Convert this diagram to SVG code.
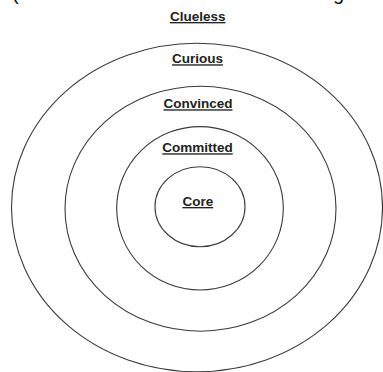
<svg xmlns="http://www.w3.org/2000/svg" width="383" height="372" viewBox="0 0 383 372">
<style>
.ring{fill:none;stroke:#3a3a3a;stroke-width:1.1}
.lbl{font-family:"Liberation Sans",Arial,sans-serif;font-weight:bold;font-size:13.5px;fill:#222;text-anchor:middle;text-decoration:underline}
.frag{font-family:"Liberation Sans",Arial,sans-serif;font-size:20px;fill:#111}
</style>
<rect width="383" height="372" fill="#fff"/>
<text class="frag" x="12" y="0">(</text>
<text class="frag" x="333" y="0">g</text>
<g id="clueless"><text class="lbl" x="197.7" y="21">Clueless</text></g>
<g id="curious"><ellipse class="ring" cx="197" cy="207.5" rx="185.5" ry="164.3"/><text class="lbl" x="197.5" y="63.3">Curious</text></g>
<g id="convinced"><ellipse class="ring" cx="200.5" cy="208.7" rx="135.5" ry="122.5"/><text class="lbl" x="198" y="108.3">Convinced</text></g>
<g id="committed"><ellipse class="ring" cx="200" cy="208.3" rx="83.3" ry="81.7"/><text class="lbl" x="197.5" y="152.3">Committed</text></g>
<g id="core"><ellipse class="ring" cx="200" cy="206.7" rx="45" ry="40"/><text class="lbl" x="197.8" y="206">Core</text></g>
<g id="connectors"/>
</svg>
